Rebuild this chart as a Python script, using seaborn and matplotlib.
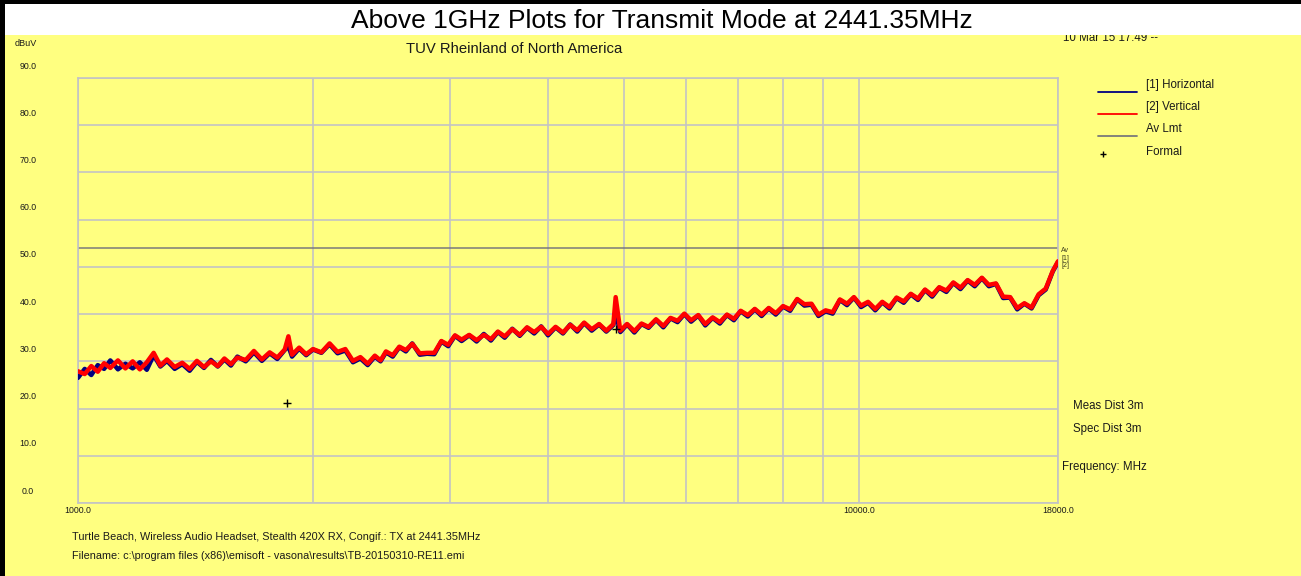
import matplotlib
matplotlib.use("Agg")
import matplotlib.pyplot as plt
import pandas as pd
import seaborn as sns
from matplotlib.patches import Rectangle
from matplotlib.lines import Line2D
from matplotlib.ticker import NullFormatter
from matplotlib.transforms import blended_transform_factory, ScaledTranslation

# ---- sweep data (MHz, dBuV) ----
freq_mhz = [
    1000, 1020, 1040, 1060, 1080, 1100, 1125, 1150, 1175, 1200,
    1225, 1250, 1275, 1300, 1330, 1360, 1390, 1420, 1450, 1480,
    1510, 1540, 1570, 1600, 1640, 1680, 1720, 1760, 1800, 1840,
    1860, 1880, 1920, 1960, 2000, 2050, 2100, 2150, 2200, 2250,
    2300, 2350, 2400, 2441, 2480, 2530, 2580, 2630, 2680, 2740,
    2800, 2860, 2920, 2980, 3040, 3100, 3170, 3240, 3310, 3380,
    3450, 3520, 3600, 3680, 3760, 3840, 3920, 4000, 4090, 4180,
    4270, 4360, 4450, 4550, 4650, 4750, 4850, 4883, 4950, 5050,
    5160, 5270, 5380, 5500, 5620, 5740, 5860, 5980, 6100, 6230,
    6360, 6500, 6640, 6780, 6920, 7060, 7210, 7360, 7510, 7670,
    7830, 8000, 8170, 8340, 8520, 8700, 8880, 9070, 9260, 9460,
    9660, 9860, 10070, 10280, 10500, 10720, 10950, 11180, 11420, 11660,
    11910, 12160, 12420, 12680, 12950, 13220, 13500, 13790, 14080, 14380,
    14680, 14990, 15310, 15630, 15960, 16300, 16650, 17000, 17360, 17720,
    18000,
]

horizontal_dbuv = [
    26.5, 28.4, 27.1, 29.2, 28.4, 30.2, 28.3, 29.5, 28.5, 29.8,
    28.2, 31.3, 28.9, 30.1, 28.4, 29.4, 28.0, 29.9, 28.6, 30.3,
    28.9, 30.4, 29.1, 31.0, 30.0, 31.9, 30.1, 31.7, 30.5, 32.4,
    33.2, 31.0, 32.7, 31.3, 32.5, 31.8, 33.6, 31.7, 32.3, 29.8,
    30.6, 29.2, 31.0, 30.0, 31.9, 31.0, 33.0, 32.1, 33.8, 31.4,
    31.6, 31.5, 34.2, 33.2, 35.4, 34.3, 35.5, 34.2, 35.8, 34.4,
    36.2, 35.0, 36.9, 35.4, 37.1, 35.9, 37.4, 35.5, 37.2, 35.9,
    37.8, 36.3, 38.1, 36.5, 37.8, 36.3, 37.7, 40.2, 36.2, 37.8,
    36.1, 37.9, 37.1, 38.8, 37.2, 39.1, 38.3, 40.0, 38.4, 39.7,
    37.6, 39.2, 38.0, 39.8, 38.7, 40.6, 39.5, 41.0, 39.6, 41.2,
    39.9, 41.6, 40.7, 43.1, 41.8, 42.0, 39.6, 40.6, 40.1, 43.0,
    41.9, 43.5, 41.5, 42.4, 40.8, 42.5, 41.2, 43.4, 42.4, 44.2,
    43.0, 45.1, 43.7, 45.6, 44.7, 46.6, 45.3, 47.1, 45.9, 47.6,
    45.9, 46.4, 43.4, 43.5, 41.0, 42.2, 41.2, 44.0, 45.2, 49.0,
    51.0,
]

vertical_dbuv = [
    27.9, 27.3, 29.0, 27.8, 29.6, 28.6, 30.2, 28.5, 30.0, 28.3,
    29.8, 31.8, 29.1, 30.4, 28.8, 29.7, 28.4, 30.1, 28.8, 30.0,
    29.0, 30.6, 29.4, 30.8, 30.3, 32.2, 30.4, 31.9, 30.8, 32.5,
    35.3, 31.4, 32.9, 31.5, 32.6, 31.9, 33.8, 32.0, 32.6, 30.1,
    30.9, 29.5, 31.2, 30.2, 32.1, 31.3, 33.1, 32.4, 33.7, 31.7,
    31.8, 31.8, 34.3, 33.5, 35.5, 34.6, 35.6, 34.5, 35.6, 34.7,
    36.3, 35.3, 36.8, 35.6, 37.2, 36.2, 37.3, 35.8, 37.3, 36.1,
    37.7, 36.6, 38.2, 36.8, 37.9, 36.5, 37.9, 43.6, 36.5, 37.9,
    36.4, 38.0, 37.3, 38.9, 37.5, 39.2, 38.6, 40.1, 38.7, 39.8,
    37.9, 39.3, 38.3, 39.9, 39.0, 40.7, 39.8, 41.1, 39.9, 41.3,
    40.2, 41.7, 41.0, 43.2, 42.1, 42.2, 39.9, 40.8, 40.4, 43.1,
    42.2, 43.6, 41.8, 42.6, 41.1, 42.6, 41.5, 43.5, 42.7, 44.3,
    43.3, 45.2, 44.0, 45.7, 45.0, 46.7, 45.6, 47.2, 46.2, 47.7,
    46.2, 46.5, 43.7, 43.6, 41.3, 42.3, 41.4, 44.2, 45.4, 49.1,
    51.2,
]

av_limit_dbuv = 54.0
formal_freq_mhz = [1852, 4883]
formal_dbuv = [21.1, 36.8]

y_ticks = [0, 10, 20, 30, 40, 50, 60, 70, 80, 90]
x_label_ticks = [1000, 10000, 18000]
x_grid_ticks = [2000, 3000, 4000, 5000, 6000, 7000, 8000, 9000]

trace_names = ["[1] Horizontal", "[2] Vertical"]
trace_colors = {"[1] Horizontal": "#000080", "[2] Vertical": "#ff0000"}

title = "Above 1GHz Plots for Transmit Mode at 2441.35MHz"
subtitle = "TUV Rheinland of North America"
stamp = "10 Mar 15 17:49 --"
eut_line = "Turtle Beach, Wireless Audio Headset, Stealth 420X RX, Congif.: TX at 2441.35MHz"
file_line = "Filename: c:\\program files (x86)\\emisoft - vasona\\results\\TB-20150310-RE11.emi"

# ---- styling ----
sns.set_theme(style="white")
plt.rcParams["font.family"] = ["Liberation Sans", "DejaVu Sans"]

YELLOW = "#ffff80"
GRID = "#c4c4c4"
INK = "#1a1a1a"
W, H = 1301, 576

fig = plt.figure(figsize=(W / 100, H / 100), dpi=100, facecolor=YELLOW)
ax = fig.add_axes([78 / W, 73 / H, 980 / W, 425 / H], facecolor=YELLOW)

df = pd.DataFrame({
    "freq": freq_mhz * 2,
    "level": horizontal_dbuv + vertical_dbuv,
    "trace": [trace_names[0]] * len(freq_mhz) + [trace_names[1]] * len(freq_mhz),
})

ax.axhline(av_limit_dbuv, color="#7a7a7a", lw=1.1, zorder=2)
sns.lineplot(data=df, x="freq", y="level", hue="trace", hue_order=trace_names,
             palette=trace_colors, estimator=None, sort=False, lw=3.2,
             legend=False, ax=ax, zorder=3)
sns.scatterplot(x=formal_freq_mhz, y=formal_dbuv, marker="+", color="black",
                s=30, linewidth=1.0, ax=ax, zorder=4)

ax.set_xscale("log")
ax.set_xlim(1000, 18000)
ax.set_ylim(0, 90)
ax.set_xlabel("")
ax.set_ylabel("")

ax.set_xticks(x_label_ticks, labels=[f"{v:.1f}" for v in x_label_ticks])
ax.set_xticks(x_grid_ticks, minor=True)
ax.xaxis.set_minor_formatter(NullFormatter())
ax.set_yticks(y_ticks)
ax.set_yticklabels([])
ax.tick_params(axis="both", which="both", length=0)
ax.tick_params(axis="x", pad=2, labelsize=6.3, labelcolor=INK)
ax.grid(True, which="both", color=GRID, lw=1.2)
ax.set_axisbelow(True)
for sp in ax.spines.values():
    sp.set_color(GRID)
    sp.set_linewidth(1.2)
    sp.set_visible(True)

# y labels sit just above their grid lines
ylab_trans = blended_transform_factory(fig.transFigure, ax.transData) + \
    ScaledTranslation(0, 12 / 100, fig.dpi_scale_trans)
for v in y_ticks:
    fig.text(28 / W, v, f"{v:.1f}", transform=ylab_trans, ha="center",
             va="center", fontsize=6.3, color=INK)

# end-of-trace tags at the right edge
tag_trans = blended_transform_factory(fig.transFigure, ax.transData)
for txt, v in zip(["Av", "[1]", "[2]"], [av_limit_dbuv - 0.6, av_limit_dbuv - 2.2, av_limit_dbuv - 3.8]):
    fig.text(1061 / W, v, txt, transform=tag_trans, ha="left", va="center",
             fontsize=5, color="#404020")

# frame: black edges, white title band
fig.patches.append(Rectangle((0, 1 - 35 / H), 1, 35 / H, transform=fig.transFigure,
                             facecolor="white", edgecolor="none", zorder=5))
fig.patches.append(Rectangle((0, 1 - 4 / H), 1, 4 / H, transform=fig.transFigure,
                             facecolor="black", edgecolor="none", zorder=6))
fig.patches.append(Rectangle((0, 0), 5 / W, 1, transform=fig.transFigure,
                             facecolor="black", edgecolor="none", zorder=6))

def ftext(x, y, s, **kw):
    kw.setdefault("color", INK)
    kw.setdefault("fontsize", 8.3)
    kw.setdefault("va", "center")
    return fig.text(x / W, 1 - y / H, s, **kw)

ftext(662, 21, title, ha="center", fontsize=19, color="black", zorder=7)
ftext(1063, 38, stamp, ha="left", zorder=1)
ftext(514, 49, subtitle, ha="center", fontsize=10.7)
ftext(15, 44, "dBuV", ha="left", fontsize=6.5)

# legend block
leg_rows = [("[1] Horizontal", "#000080", 85), ("[2] Vertical", "#ff0000", 107),
            ("Av Lmt", "#7a7a7a", 129)]
for label, col, y in leg_rows:
    fig.add_artist(Line2D([1098 / W, 1137 / W], [1 - (y + 7) / H] * 2,
                          transform=fig.transFigure, color=col, lw=1.3))
    ftext(1146, y, label, ha="left")
fig.add_artist(Line2D([1103 / W], [1 - 154 / H], transform=fig.transFigure,
                      marker="+", color="black", markersize=5, mew=1.0, ls="none"))
ftext(1146, 152, "Formal", ha="left")

ftext(1073, 406, "Meas Dist 3m", ha="left")
ftext(1073, 429, "Spec Dist 3m", ha="left")
ftext(1062, 467, "Frequency: MHz", ha="left")

ftext(72, 537, eut_line, ha="left", fontsize=7.85)
ftext(72, 556, file_line, ha="left", fontsize=7.85)

fig.savefig("out.png", dpi=100, facecolor=YELLOW)
